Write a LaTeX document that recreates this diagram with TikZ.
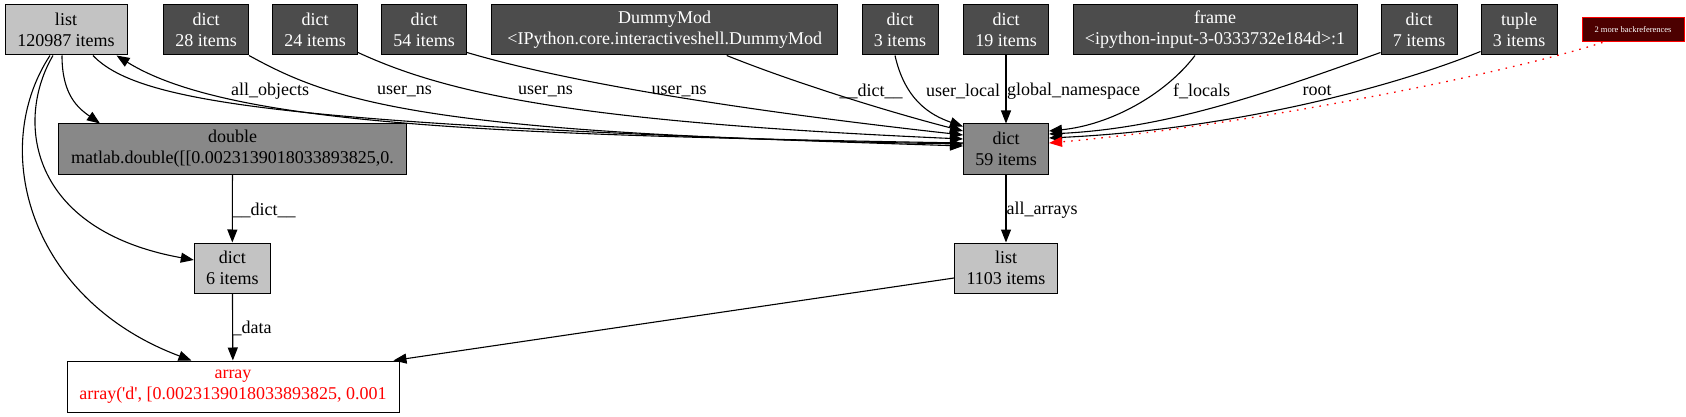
\documentclass[tikz,border=0pt]{standalone}
\usepackage{fontspec}
\setmainfont{Liberation Serif}
\usetikzlibrary{arrows.meta,calc}
\definecolor{gvlight}{HTML}{C3C3C3}
\definecolor{gvmid}{HTML}{888888}
\definecolor{gvdark}{HTML}{4C4C4C}
\definecolor{gvdarkred}{HTML}{4C0000}
\definecolor{gvred}{HTML}{FF0000}
\newcommand\gvfont{\fontsize{18}{21}\selectfont}
\tikzset{
  box/.style={draw=black, line width=1pt, inner sep=0pt, minimum height=50, align=center, font=\gvfont},
  lightbox/.style={box, fill=gvlight},
  midbox/.style={box, fill=gvmid},
  darkbox/.style={box, fill=gvdark, text=white},
  lbl/.style={font=\gvfont, inner sep=0pt},
  edge/.style={-{Triangle[length=13pt,width=10pt]}, line width=1.1pt, black},
  moreedge/.style={-{Triangle[length=13pt,width=10pt]}, line width=1.3pt, gvred, dash pattern=on 1.6pt off 6pt}
}
\begin{document}
\begin{tikzpicture}[x=1pt, y=-1pt]
\useasboundingbox (0,0) rectangle (1686,417);
% top row
\node[lightbox, minimum width=122] (l1) at (66,30) {list\\120987 items};
\node[darkbox, minimum width=85] (d28) at (206,30) {dict\\28 items};
\node[darkbox, minimum width=85] (d24) at (315,30) {dict\\24 items};
\node[darkbox, minimum width=85] (d54) at (424,30) {dict\\54 items};
\node[darkbox, minimum width=346] (dummy) at (664.7,30) {DummyMod\\<IPython.core.interactiveshell.DummyMod};
\node[darkbox, minimum width=76] (d3) at (900,30) {dict\\3 items};
\node[darkbox, minimum width=85] (d19) at (1006,30) {dict\\19 items};
\node[darkbox, minimum width=284] (frame) at (1215,30) {frame\\<ipython-input-3-0333732e184d>:1};
\node[darkbox, minimum width=76] (d7) at (1419,30) {dict\\7 items};
\node[darkbox, minimum width=76] (tup) at (1519,30) {tuple\\3 items};
\node[draw=gvred, line width=1pt, fill=gvdarkred, text=white, inner sep=0pt, minimum width=102, minimum height=24, font=\fontsize{8.5}{10}\selectfont] (back) at (1633,30) {2 more backreferences};
% middle rows
\node[midbox, minimum width=348] (dbl) at (232.5,149) {double\\matlab.double([[0.0023139018033893825,0.};
\node[midbox, minimum width=85] (d59) at (1006,149) {dict\\59 items};
\node[lightbox, minimum width=76] (d6) at (232.3,268) {dict\\6 items};
\node[lightbox, minimum width=103] (l2) at (1006,268) {list\\1103 items};
\node[box, fill=white, text=gvred, minimum width=332, minimum height=51] (arr) at (233,386.5) {array\\array(\textquotesingle d\textquotesingle, [0.0023139018033893825, 0.001};
% edges from list 120987
\draw[edge] ($(l1.south)+(-4,0)$) .. controls (62,95) and (78,108) .. ($(dbl.north west)+(42,0)$);
\draw[edge] ($(l1.south)+(-13,0)$) .. controls (15,120) and (28,230) .. ($(d6.west)+(0,-8)$);
\draw[edge] ($(l1.south)+(-16,0)$) .. controls (-12,150) and (30,300) .. ($(arr.north west)+(125,0)$);
\draw[edge] ($(l1.south)+(27,0)$) .. controls (140,105) and (300,125) .. ($(d59.west)+(0,-3)$);
\draw[edge] ($(d59.west)+(0,-6)$) .. controls (500,135) and (230,126) .. ($(l1.south east)+(-11,0)$);
% top row to dict 59
\draw[edge] (d28.south east) .. controls (330,100) and (420,135) .. ($(d59.west)+(0,-5)$);
\draw[edge] ($(d24.south east)+(0,-3)$) .. controls (450,95) and (580,122) .. ($(d59.west)+(0,-10)$);
\draw[edge] ($(d54.south east)+(0,-3)$) .. controls (560,80) and (720,108) .. ($(d59.west)+(0,-14)$);
\draw[edge] ($(dummy.south)+(62,0)$) .. controls (800,85) and (900,115) .. ($(d59.west)+(0,-18)$);
\draw[edge] ($(d3.south)+(-5,0)$) .. controls (905,100) and (930,115) .. ($(d59.north west)+(0,3)$);
\draw[edge] (d19) -- (d59);
\draw[edge] ($(frame.south)+(-20,0)$) .. controls (1165,95) and (1110,125) .. ($(d59.east)+(0,-18)$);
\draw[edge] ($(d7.south west)+(0,-3)$) .. controls (1270,92) and (1170,128) .. ($(d59.east)+(0,-15)$);
\draw[edge] ($(tup.south west)+(0,-4)$) .. controls (1380,92) and (1220,130) .. ($(d59.east)+(0,-11)$);
\draw[moreedge] ($(back.south west)+(21,0)$) .. controls (1500,75) and (1250,125) .. ($(d59.east)+(0,-6)$);
% lower edges
\draw[edge] (dbl) -- (d6);
\draw[edge] (d6) -- (arr);
\draw[edge] (d59) -- (l2);
\draw[edge] ($(l2.west)+(0,10)$) -- ($(arr.north east)+(-6,0)$);
% labels
\node[lbl] (t1) at (270,91) {all\_objects};
\node[lbl] (t2) at (404.5,91) {user\_ns};
\node[lbl] (t3) at (545.5,91) {user\_ns};
\node[lbl] (t4) at (679,91) {user\_ns};
\node[lbl] (t5) at (871,91) {\_\_dict\_\_};
\node[lbl] (t6) at (963,91) {user\_local};
\node[lbl] (t7) at (1073.5,91) {global\_namespace};
\node[lbl] (t8) at (1201.5,91) {f\_locals};
\node[lbl] (t9) at (1317,91) {root};
\node[lbl] (t10) at (264,210) {\_\_dict\_\_};
\node[lbl] (t11) at (252,328) {\_data};
\node[lbl] (t12) at (1042,210) {all\_arrays};
\end{tikzpicture}
\end{document}
